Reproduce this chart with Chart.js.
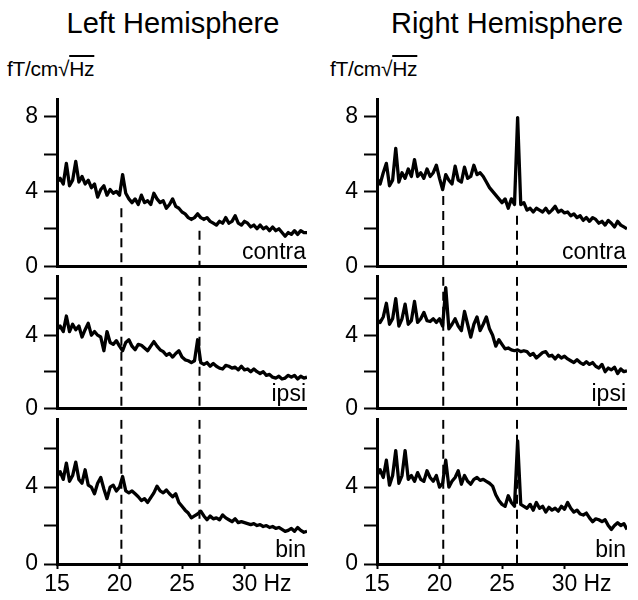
<!DOCTYPE html>
<html>
<head>
<meta charset="utf-8">
<script src="https://cdn.jsdelivr.net/npm/chart.js@4.4.1/dist/chart.umd.min.js"></script>
<style>
  html, body { margin: 0; padding: 0; background: #fff; }
  body { width: 638px; height: 600px; position: relative; overflow: hidden;
         font-family: "Liberation Sans", Arial, Helvetica, sans-serif; color: #000; }
  .title { position: absolute; top: 7px; width: 320px; text-align: center; font-size: 29px; }
  .unit { position: absolute; top: 57px; font-size: 21px; letter-spacing: -0.3px; }
  .ov { text-decoration: overline; }
  canvas { position: absolute; }
</style>
</head>
<body>
<div class="title" style="left:13px">Left Hemisphere</div>
<div class="title" style="left:347px">Right Hemisphere</div>
<div class="unit" style="left:7px">fT/cm√<span class="ov">Hz</span></div>
<div class="unit" style="left:330px">fT/cm√<span class="ov">Hz</span></div>

<canvas id="lc" width="320" height="206" style="left:0;top:80px"></canvas>
<canvas id="li" width="320" height="171" style="left:0;top:257px"></canvas>
<canvas id="lb" width="320" height="200" style="left:0;top:400px"></canvas>
<canvas id="rc" width="318" height="206" style="left:320px;top:80px"></canvas>
<canvas id="ri" width="318" height="171" style="left:320px;top:257px"></canvas>
<canvas id="rb" width="318" height="200" style="left:320px;top:400px"></canvas>

<script>
// frequency grid, 0.25 Hz steps from 15 to 35 Hz
const freqHz = Array.from({ length: 81 }, (_, i) => 15 + i * 0.25);

const leftContra = [4.5,4.7,4.4,5.5,4.3,4.6,5.6,4.5,4.8,4.4,
  4.6,4.2,4.4,3.7,4.1,4.3,3.8,4.1,3.9,4.0,
  3.8,4.9,3.9,3.6,3.4,3.6,3.3,3.8,3.4,3.5,
  3.3,3.9,3.6,3.4,3.5,3.1,3.3,3.6,3.2,3.1,
  2.9,2.8,2.6,2.5,2.6,2.8,2.6,2.5,2.6,2.4,
  2.3,2.2,2.4,2.3,2.6,2.3,2.4,2.7,2.3,2.2,
  2.4,2.3,2.1,2.2,2.0,2.2,2.0,2.1,1.9,2.1,
  1.9,2.0,1.8,1.6,1.8,1.7,1.9,1.7,1.9,1.8,
  1.8];
const leftIpsi = [4.3,4.5,4.2,5.05,4.2,4.6,4.3,4.5,3.9,4.3,
  4.65,4.0,4.2,4.0,3.9,3.15,4.2,3.6,3.5,3.7,
  3.4,3.15,3.6,3.75,3.4,3.2,3.5,3.45,3.3,3.15,
  3.4,3.65,3.4,3.2,3.1,2.9,3.0,2.8,3.0,3.15,
  2.8,2.65,2.6,2.5,2.6,3.75,2.5,2.4,2.5,2.3,
  2.45,2.3,2.2,2.15,2.35,2.3,2.2,2.25,2.1,2.3,
  2.1,2.15,2.0,2.15,2.0,1.9,2.0,1.8,1.85,1.7,
  1.65,1.75,1.6,1.65,1.8,1.7,1.8,1.6,1.75,1.65,
  1.7];
const leftBin = [4.55,4.8,4.4,5.25,4.3,4.6,5.3,4.4,4.2,4.9,
  4.1,4.0,3.65,4.2,4.5,3.9,3.4,4.0,4.1,3.8,
  4.0,4.55,3.8,3.7,3.8,3.65,3.5,3.3,3.4,3.2,
  3.45,3.7,4.05,3.8,3.7,3.85,3.65,3.5,3.65,3.2,
  3.0,2.8,2.65,2.4,2.5,2.6,2.75,2.5,2.3,2.5,
  2.35,2.4,2.3,2.55,2.4,2.3,2.2,2.35,2.15,2.2,
  2.15,2.1,2.05,2.1,2.0,2.05,1.95,2.0,1.9,1.95,
  1.85,1.9,1.8,1.7,1.75,1.85,1.7,1.9,1.75,1.65,
  1.7];
const rightContra = [4.7,4.4,5.0,5.5,4.3,4.6,6.3,4.5,5.0,4.7,
  5.2,4.8,5.7,4.8,5.0,4.7,5.2,4.8,5.0,5.4,
  4.7,4.1,4.9,4.6,4.4,5.35,4.6,4.5,5.3,4.7,
  4.8,5.4,4.9,5.0,4.8,4.5,4.2,4.0,3.8,3.6,
  3.4,3.6,3.1,3.6,3.3,7.95,3.3,3.4,3.0,3.1,
  2.9,3.1,3.0,2.9,3.1,2.85,3.0,3.2,2.9,3.0,
  2.85,2.9,2.7,2.8,2.6,2.7,2.45,2.6,2.4,2.6,
  2.5,2.3,2.4,2.2,2.45,2.3,2.1,2.4,2.2,2.1,
  2.0];
const rightIpsi = [4.85,4.7,5.0,5.75,4.6,4.9,6.0,4.5,4.9,5.7,
  4.6,4.8,5.85,4.7,4.9,5.25,4.8,4.75,4.9,4.7,
  4.9,4.5,6.6,4.35,4.6,4.9,4.5,4.25,5.3,4.6,
  3.9,4.6,5.0,4.25,4.6,5.0,4.35,4.0,3.4,3.75,
  3.5,3.25,3.3,3.2,3.15,3.2,3.1,3.15,3.1,2.9,
  3.0,2.75,2.9,3.05,3.1,2.85,2.9,2.7,2.9,2.75,
  2.85,2.7,2.6,2.5,2.65,2.5,2.4,2.55,2.4,2.5,
  2.3,2.2,2.4,2.0,2.2,2.1,2.25,1.9,2.15,2.0,
  2.05];
const rightBin = [4.6,4.9,4.5,5.4,4.1,4.6,5.9,4.2,4.6,5.9,
  4.4,4.6,4.3,4.75,4.4,4.3,4.85,4.5,4.3,4.6,
  4.0,4.2,5.4,4.0,4.3,4.5,4.85,4.15,4.6,4.3,
  4.15,4.4,4.5,4.35,4.4,4.3,4.2,4.05,3.6,3.3,
  3.1,3.0,3.55,3.2,3.0,6.4,3.1,3.0,2.9,3.1,
  2.8,3.2,2.9,3.0,2.7,2.95,2.8,2.9,2.75,3.0,
  2.85,3.2,2.9,2.7,2.8,2.6,2.55,2.65,2.4,2.2,
  2.35,2.3,2.2,2.3,2.0,1.8,2.0,2.15,2.0,2.1,
  1.8];

// dashed marker frequencies and where the dashes start in the top panel
const markerHzLeft = [20.15, 26.4];
const markerHzRight = [20.3, 26.2];
const markerStartLeft = [3.1, 1.9];
const markerStartRight = [3.75, 2.7];

const panelNames = ['contra', 'ipsi', 'bin'];
const yMax = [8.9, 7.2, 7.5];
const xMin = 15, xMax = 35, xLastLabel = 30;

Chart.defaults.font.family = '"Liberation Sans", Arial, Helvetica, sans-serif';
Chart.defaults.color = '#000';

const panelText = {
  id: 'panelText',
  afterDraw(chart, args, opts) {
    const { ctx, chartArea } = chart;
    ctx.save();
    ctx.fillStyle = '#000';
    ctx.font = '23px "Liberation Sans", Arial, sans-serif';
    ctx.textAlign = 'right';
    ctx.textBaseline = 'alphabetic';
    ctx.fillText(opts.name, chartArea.right - 1, chartArea.bottom - 7);
    if (opts.hz) {
      const xs = chart.scales.x;
      const item = xs.getLabelItems().find(it => it.label === String(xLastLabel));
      if (item) {
        ctx.font = '23px "Liberation Sans", Arial, sans-serif';
        ctx.textAlign = 'left';
        ctx.textBaseline = item.options.textBaseline;
        ctx.fillText('Hz', xs.getPixelForValue(xLastLabel) + 19,
          item.options.translation[1] + (item.textOffset || 0));
      }
    }
    ctx.restore();
  }
};

function makePanel(id, values, row, markers, starts, padRight) {
  const isTop = row === 0;
  const isBottom = row === 2;
  const datasets = [{
    data: freqHz.map((f, i) => ({ x: f, y: values[i] })),
    borderColor: '#000', borderWidth: 3.3, pointRadius: 0,
    borderJoinStyle: 'round', tension: 0
  }];
  markers.forEach((hz, k) => {
    datasets.push({
      data: [{ x: hz, y: isTop ? starts[k] : yMax[row] }, { x: hz, y: 0 }],
      borderColor: '#000', borderWidth: 2, borderDash: [9, 6], pointRadius: 0
    });
  });

  const pads = [{ top: 16, bottom: 15 }, { top: 14, bottom: 14 }, { top: 14, bottom: 0 }][row];

  const xScale = isBottom ? {
    type: 'linear', min: xMin, max: xMax,
    afterFit: s => { s.height = 36; },
    border: { display: true, color: '#000', width: 3 },
    grid: {
      drawOnChartArea: false, drawTicks: true, tickLength: 5, tickWidth: 2,
      tickColor: c => (c.tick && c.tick.value > xLastLabel ? 'rgba(0,0,0,0)' : '#000')
    },
    ticks: {
      stepSize: 5, includeBounds: false, autoSkip: false, maxRotation: 0, padding: 2,
      font: { size: 23 },
      callback: v => (v <= xLastLabel ? String(v) : '')
    }
  } : { type: 'linear', min: xMin, max: xMax, display: false };

  new Chart(document.getElementById(id), {
    type: 'line',
    data: { datasets },
    options: {
      responsive: false,
      animation: false,
      devicePixelRatio: 1,
      layout: { autoPadding: false, padding: { top: pads.top, bottom: pads.bottom, left: 0, right: padRight } },
      plugins: { legend: { display: false }, tooltip: { enabled: false }, panelText: { name: panelNames[row], hz: isBottom } },
      scales: {
        x: xScale,
        y: {
          min: 0, max: yMax[row],
          afterFit: s => { s.width = 57; },
          border: { display: true, color: '#000', width: 3 },
          grid: {
            drawOnChartArea: true, drawTicks: true, tickLength: 13, tickWidth: 2,
            color: c => (c.tick && c.tick.value === 0 ? '#000' : 'rgba(0,0,0,0)'),
            lineWidth: c => (c.tick && c.tick.value === 0 ? 3 : 1),
            tickColor: '#000'
          },
          ticks: {
            stepSize: 2, includeBounds: false, padding: 6, font: { size: 23 },
            callback: v => (v % 4 === 0 ? String(v) : '')
          }
        }
      }
    },
    plugins: [panelText]
  });
}

makePanel('lc', leftContra, 0, markerHzLeft, markerStartLeft, 13);
makePanel('li', leftIpsi, 1, markerHzLeft, markerStartLeft, 13);
makePanel('lb', leftBin, 2, markerHzLeft, markerStartLeft, 13);
makePanel('rc', rightContra, 0, markerHzRight, markerStartRight, 11);
makePanel('ri', rightIpsi, 1, markerHzRight, markerStartRight, 11);
makePanel('rb', rightBin, 2, markerHzRight, markerStartRight, 11);
</script>
</body>
</html>
